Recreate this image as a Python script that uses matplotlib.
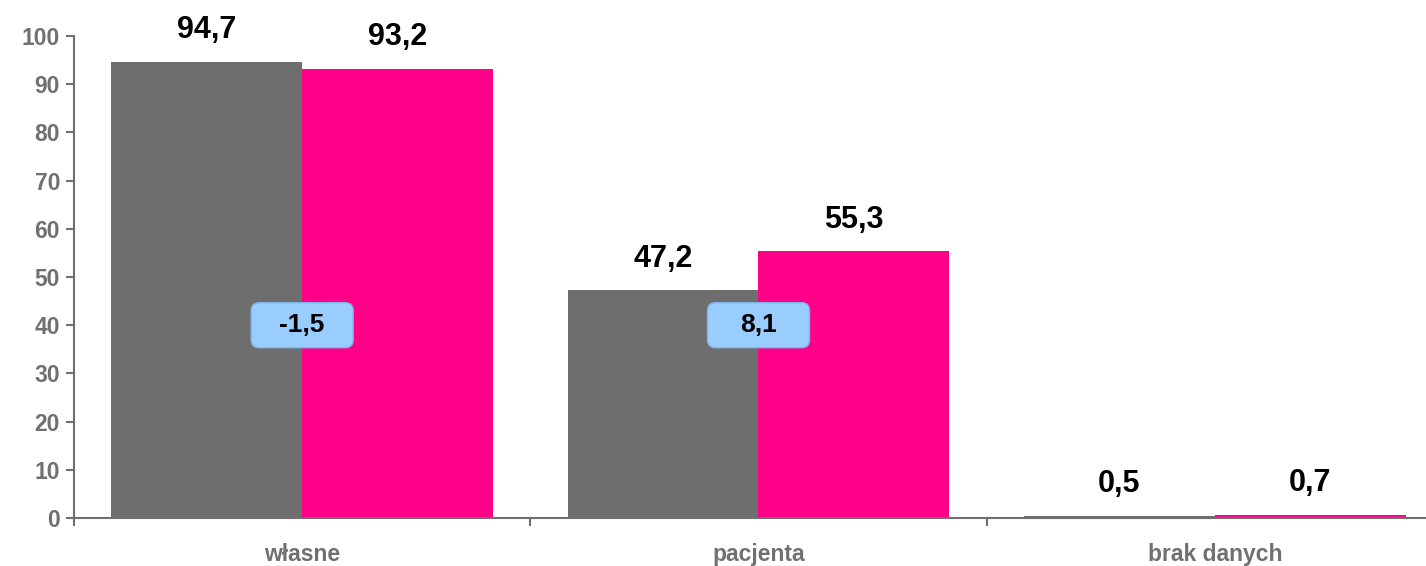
import matplotlib
matplotlib.use("Agg")
import matplotlib.pyplot as plt
import matplotlib.transforms as mtransforms
from matplotlib.patches import FancyBboxPatch
import numpy as np

categories = ["własne", "pacjenta", "brak danych"]
series_a = [94.7, 47.2, 0.5]
series_b = [93.2, 55.3, 0.7]
diff_groups = [0, 1]
diff_y = 40

gray = "#6E6E6E"
pink = "#FF0088"
axis_gray = "#707070"

plt.rcParams["font.family"] = ["Liberation Sans", "DejaVu Sans"]
plt.rcParams["font.weight"] = "bold"

fig = plt.figure(figsize=(14.26, 5.66), dpi=100)
ax = fig.add_axes([74 / 1426, 48 / 566, 1369 / 1426, 482 / 566])

x = np.arange(len(categories))
w = 0.418
ax.bar(x - w / 2, series_a, width=w, color=gray, zorder=2)
ax.bar(x + w / 2, series_b, width=w, color=pink, zorder=2)

def fmt(v):
    return f"{v:.1f}".replace(".", ",")

for xi, a, b in zip(x, series_a, series_b):
    ax.annotate(fmt(a), (xi - w / 2, a), xytext=(0, 23), textcoords="offset points",
                ha="center", va="center", fontsize=22, fontweight="bold", color="black")
    ax.annotate(fmt(b), (xi + w / 2, b), xytext=(0, 23), textcoords="offset points",
                ha="center", va="center", fontsize=22, fontweight="bold", color="black")

# difference badges: fixed-size rounded boxes anchored at the group centre
for g in diff_groups:
    d = round(series_b[g] - series_a[g], 1)
    anchor = mtransforms.ScaledTranslation(x[g], diff_y, ax.transData)
    tr = fig.dpi_scale_trans + anchor
    box = FancyBboxPatch((-0.51, -0.225), 1.02, 0.45,
                         boxstyle="round,pad=0,rounding_size=0.08",
                         transform=tr, fc="#99CCFF", ec="#80B5EA", lw=1.0, zorder=4)
    ax.add_patch(box)
    ax.text(x[g], diff_y, fmt(d), ha="center", va="center", fontsize=19,
            fontweight="bold", color="black", zorder=5)

ax.set_xlim(-0.5, 2.5)
ax.set_ylim(0, 100)
ax.set_yticks(range(0, 101, 10))
ax.set_xticks(x)
ax.set_xticklabels(categories)
ax.set_xticks([-0.5, 0.5, 1.5, 2.5], minor=True)

for s in ["top", "right"]:
    ax.spines[s].set_visible(False)
for s in ["left", "bottom"]:
    ax.spines[s].set_color(axis_gray)
    ax.spines[s].set_linewidth(1.5)

ax.tick_params(axis="y", colors=axis_gray, labelsize=16.5, length=6, width=1.5, pad=4)
ax.tick_params(axis="x", which="major", length=0, labelsize=16.5, colors=axis_gray, pad=18)
ax.tick_params(axis="x", which="minor", length=6, width=1.5, color=axis_gray)
for lab in ax.get_yticklabels() + ax.get_xticklabels():
    lab.set_fontweight("bold")

fig.savefig("out.png", dpi=100)
